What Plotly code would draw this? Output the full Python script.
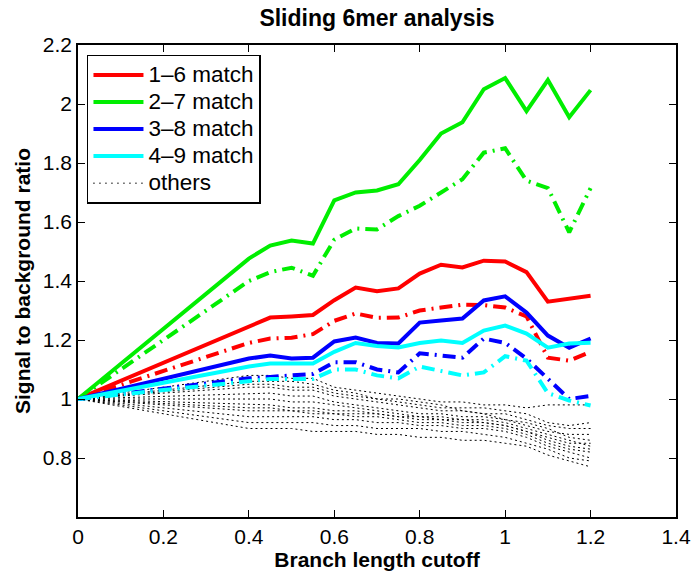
import plotly.graph_objects as go

# ---- data ----
cutoff = [0, 0.4, 0.45, 0.5, 0.55, 0.6, 0.65, 0.7, 0.75, 0.8, 0.85, 0.9, 0.95, 1.0, 1.05, 1.1, 1.15, 1.2]

m16_a = [1.0, 1.245, 1.276, 1.28, 1.285, 1.335, 1.378, 1.365, 1.375, 1.425, 1.455, 1.446, 1.469, 1.466, 1.43, 1.33, 1.34, 1.35]
m16_b = [1.0, 1.19, 1.205, 1.208, 1.22, 1.265, 1.29, 1.275, 1.276, 1.30, 1.31, 1.32, 1.318, 1.31, 1.28, 1.14, 1.13, 1.16]
m27_a = [1.0, 1.476, 1.52, 1.537, 1.527, 1.673, 1.70, 1.707, 1.728, 1.81, 1.90, 1.938, 2.05, 2.088, 1.976, 2.081, 1.955, 2.047]
m27_b = [1.0, 1.40, 1.43, 1.445, 1.418, 1.54, 1.578, 1.575, 1.62, 1.655, 1.70, 1.745, 1.835, 1.85, 1.74, 1.715, 1.565, 1.715]
m38_a = [1.0, 1.137, 1.147, 1.137, 1.14, 1.195, 1.208, 1.19, 1.188, 1.259, 1.266, 1.273, 1.334, 1.348, 1.293, 1.215, 1.174, 1.205]
m38_b = [1.0, 1.07, 1.075, 1.08, 1.085, 1.125, 1.125, 1.10, 1.09, 1.155, 1.147, 1.14, 1.205, 1.19, 1.137, 1.07, 1.0, 1.01]
m49_a = [1.0, 1.11, 1.12, 1.12, 1.12, 1.16, 1.19, 1.18, 1.175, 1.19, 1.198, 1.19, 1.232, 1.249, 1.222, 1.174, 1.188, 1.191]
m49_b = [1.0, 1.06, 1.068, 1.068, 1.068, 1.10, 1.10, 1.08, 1.07, 1.11, 1.095, 1.08, 1.09, 1.145, 1.13, 1.02, 0.995, 0.978]

others = [
    [1, 1.08, 1.08, 1.07, 1.07, 1.04, 1.03, 1.02, 1.01, 1.00, 0.99, 0.99, 0.98, 0.98, 0.97, 0.98, 0.98, 0.98],
    [1, 1.06, 1.06, 1.06, 1.05, 1.03, 1.02, 1.00, 0.99, 0.98, 0.97, 0.97, 0.97, 0.96, 0.95, 0.92, 0.91, 0.92],
    [1, 1.05, 1.05, 1.04, 1.04, 1.02, 1.01, 1.00, 1.00, 0.99, 0.98, 0.96, 0.95, 0.93, 0.91, 0.89, 0.88, 0.88],
    [1, 1.04, 1.04, 1.03, 1.03, 1.01, 1.00, 0.99, 0.98, 0.97, 0.96, 0.96, 0.95, 0.95, 0.93, 0.91, 0.90, 0.90],
    [1, 1.02, 1.02, 1.01, 1.01, 0.99, 0.98, 0.97, 0.96, 0.95, 0.95, 0.94, 0.94, 0.93, 0.92, 0.90, 0.87, 0.86],
    [1, 1.00, 1.00, 0.99, 0.99, 0.98, 0.97, 0.96, 0.95, 0.94, 0.94, 0.93, 0.93, 0.92, 0.90, 0.88, 0.86, 0.84],
    [1, 0.98, 0.98, 0.97, 0.97, 0.96, 0.96, 0.95, 0.94, 0.93, 0.93, 0.92, 0.92, 0.91, 0.89, 0.86, 0.84, 0.83],
    [1, 0.97, 0.97, 0.96, 0.96, 0.95, 0.95, 0.95, 0.94, 0.94, 0.93, 0.93, 0.92, 0.91, 0.89, 0.87, 0.85, 0.85],
    [1, 0.96, 0.96, 0.96, 0.95, 0.95, 0.94, 0.94, 0.93, 0.92, 0.92, 0.91, 0.91, 0.90, 0.88, 0.85, 0.83, 0.82],
    [1, 0.94, 0.94, 0.94, 0.94, 0.93, 0.93, 0.92, 0.92, 0.91, 0.91, 0.90, 0.90, 0.89, 0.87, 0.84, 0.82, 0.80],
    [1, 0.92, 0.92, 0.92, 0.92, 0.91, 0.91, 0.90, 0.90, 0.90, 0.89, 0.89, 0.88, 0.87, 0.85, 0.83, 0.80, 0.79],
    [1, 0.90, 0.90, 0.90, 0.89, 0.89, 0.89, 0.88, 0.88, 0.87, 0.87, 0.86, 0.86, 0.85, 0.84, 0.81, 0.79, 0.77],
]

series_names = ["1\u20136 match", "2\u20137 match", "3\u20138 match", "4\u20139 match"]
others_name = "others"

x_ticks = [0, 0.2, 0.4, 0.6, 0.8, 1.0, 1.2, 1.4]
x_ticktext = ["0", "0.2", "0.4", "0.6", "0.8", "1", "1.2", "1.4"]
y_ticks = [0.8, 1.0, 1.2, 1.4, 1.6, 1.8, 2.0, 2.2]
y_ticktext = ["0.8", "1", "1.2", "1.4", "1.6", "1.8", "2", "2.2"]

FONT = "Liberation Sans, Arial, Helvetica, sans-serif"
DASHDOT = "13px,6px,2px,6px"
LEG_TEXT = "<span style='font-size:22.5px'>{}</span>"

W, H = 693, 571

fig = go.Figure()

# others first (drawn beneath)
for ys in others:
    fig.add_trace(go.Scatter(x=cutoff, y=ys, mode="lines", name=others_name,
                             line=dict(color="black", width=1, dash="2px,3px"),
                             showlegend=False))

colors = ["#ff0000", "#00ee00", "#0000ff", "#00ffff"]
solid = [m16_a, m27_a, m38_a, m49_a]
dashed = [m16_b, m27_b, m38_b, m49_b]

for name, col, yb in zip(series_names, colors, dashed):
    fig.add_trace(go.Scatter(x=cutoff, y=yb, mode="lines", name=name,
                             line=dict(color=col, width=4, dash=DASHDOT),
                             showlegend=False))
for rank, (name, col, ya) in enumerate(zip(series_names, colors, solid)):
    fig.add_trace(go.Scatter(x=cutoff, y=ya, mode="lines",
                             name=LEG_TEXT.format(name),
                             line=dict(color=col, width=4),
                             legendrank=rank + 1))

# legend entry for others
fig.add_trace(go.Scatter(x=[None], y=[None], mode="lines",
                         name=LEG_TEXT.format(others_name),
                         line=dict(color="black", width=1.5, dash="1px,5px"),
                         legendrank=5))

axis_common = dict(
    showline=True, linecolor="black", linewidth=1.5, mirror="ticks",
    ticks="inside", ticklen=7, tickwidth=1, tickcolor="black",
    showgrid=False, zeroline=False, automargin=False,
    tickfont=dict(family=FONT, size=21, color="black"),
)

fig.update_layout(
    width=W, height=H,
    paper_bgcolor="white", plot_bgcolor="white",
    margin=dict(l=78, r=17, t=45, b=54),
    title=dict(text="<b>Sliding 6mer analysis</b>", x=0.5, xanchor="center",
               xref="paper", y=1 - 18 / H, yref="container", yanchor="middle",
               font=dict(family=FONT, size=23, color="black")),
    xaxis=dict(range=[0, 1.4], tickvals=x_ticks, ticktext=x_ticktext,
               title=dict(text="<b>Branch length cutoff</b>", standoff=2,
                          font=dict(family=FONT, size=21, color="black")),
               **axis_common),
    yaxis=dict(range=[0.6, 2.2], tickvals=y_ticks, ticktext=y_ticktext,
               title=dict(text="<b>Signal to background ratio</b>", standoff=6,
                          font=dict(family=FONT, size=21, color="black")),
               **axis_common),
    legend=dict(x=0.015, y=0.979, xanchor="left", yanchor="top",
                bgcolor="white", bordercolor="black", borderwidth=1.5,
                font=dict(family=FONT, size=18.5, color="black"),
                tracegroupgap=0, itemwidth=50),
    showlegend=True,
)

fig.write_html("out.html",
               config={"displayModeBar": False},
               post_script="document.body.style.margin='0';")
